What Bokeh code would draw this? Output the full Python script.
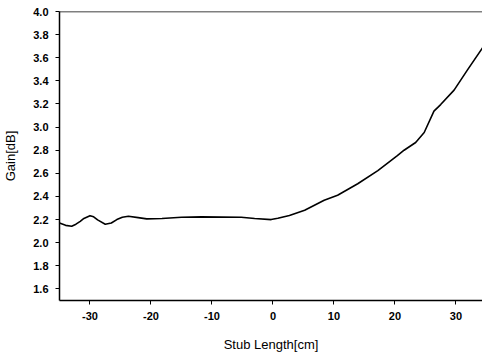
from bokeh.plotting import figure
from bokeh.models import FixedTicker, PrintfTickFormatter, Span, Range1d
from bokeh.embed import file_html
from bokeh.resources import INLINE

stub_length = [-35, -34.0, -33.0, -32.3, -31.6, -31.0, -30.0, -29.4, -28.75, -27.5,
               -26.5, -25.6, -24.7, -23.7, -22.1, -20.7, -18.2, -15.0, -11.7,
               -5.2, -3.0, -0.3, 0.8, 2.7, 5.2, 8.4, 10.6, 13.9, 17.2, 20.4,
               21.5, 23.4, 24.8, 26.4, 27.5, 29.7, 31.9, 34.3, 35]
gain = [2.17, 2.15, 2.143, 2.16, 2.185, 2.21, 2.234, 2.224, 2.197, 2.16,
        2.17, 2.20, 2.22, 2.229, 2.217, 2.206, 2.209, 2.22, 2.223,
        2.22, 2.209, 2.20, 2.211, 2.235, 2.28, 2.367, 2.41, 2.51, 2.624, 2.753,
        2.80, 2.867, 2.953, 3.138, 3.195, 3.32, 3.495, 3.68, 3.73]
x_ticks = [-30, -20, -10, 0, 10, 20, 30]
y_ticks = [1.6, 1.8, 2.0, 2.2, 2.4, 2.6, 2.8, 3.0, 3.2, 3.4, 3.6, 3.8, 4.0]

p = figure(width=482, height=354, output_backend="svg", toolbar_location=None,
           x_range=Range1d(-35, 34.36), y_range=Range1d(1.5, 4.0),
           min_border_left=57, min_border_right=0, min_border_top=11, min_border_bottom=51)

p.line(stub_length, gain, line_color="black", line_width=1.6, line_join="round")

p.grid.visible = False
p.outline_line_color = None
p.background_fill_color = "white"
p.border_fill_color = "white"

top = Span(location=4.0, dimension="width", line_color="black", line_width=1.5)
p.add_layout(top)

for ax in (p.xaxis[0], p.yaxis[0]):
    ax.axis_line_color = "black"
    ax.axis_line_width = 1.5
    ax.major_tick_line_color = "black"
    ax.major_tick_in = 0
    ax.major_tick_out = 4
    ax.minor_tick_line_color = None
    ax.major_label_text_font = "Liberation Sans"
    ax.major_label_text_font_style = "bold"
    ax.major_label_text_font_size = "11px"
    ax.major_label_text_color = "black"
    ax.axis_label_text_font = "Liberation Sans"
    ax.axis_label_text_font_style = "normal"
    ax.axis_label_text_font_size = "13px"
    ax.axis_label_text_color = "black"

p.xaxis[0].ticker = FixedTicker(ticks=x_ticks)
p.yaxis[0].ticker = FixedTicker(ticks=y_ticks)
p.xaxis[0].formatter = PrintfTickFormatter(format="%d")
p.yaxis[0].formatter = PrintfTickFormatter(format="%.1f")
p.xaxis[0].axis_label = "Stub Length[cm]"
p.yaxis[0].axis_label = "Gain[dB]"
p.xaxis[0].major_label_standoff = 7
p.xaxis[0].axis_label_standoff = 14
p.yaxis[0].major_label_standoff = 7
p.yaxis[0].axis_label_standoff = 12

open("out.html", "w").write(file_html(p, INLINE))
